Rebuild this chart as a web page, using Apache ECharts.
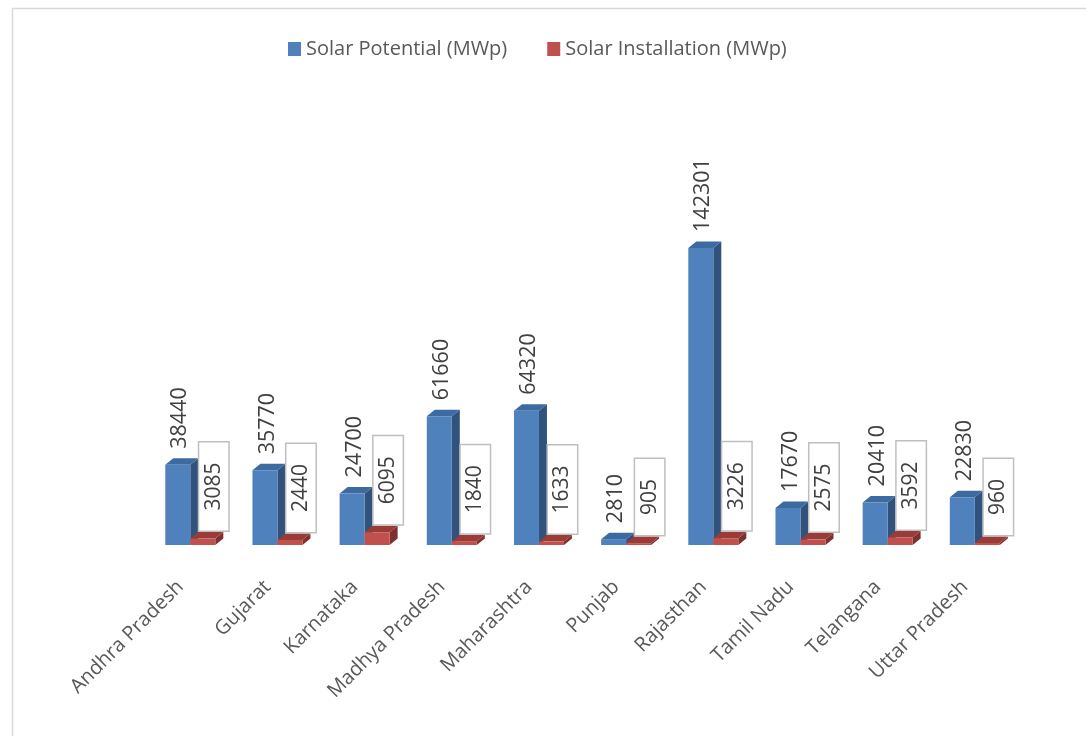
<!DOCTYPE html>
<html>
<head>
<meta charset="utf-8">
<script src="https://cdn.jsdelivr.net/npm/echarts@6/dist/echarts.min.js"></script>
<style>
html,body{margin:0;padding:0;background:#fff;}
#chart{width:1086px;height:736px;}
</style>
</head>
<body>
<div id="chart"></div>
<script>
const categories = ['Andhra Pradesh','Gujarat','Karnataka','Madhya Pradesh','Maharashtra','Punjab','Rajasthan','Tamil Nadu','Telangana','Uttar Pradesh'];
const potential = [38440, 35770, 24700, 61660, 64320, 2810, 142301, 17670, 20410, 22830];
const installation = [3085, 2440, 6095, 1840, 1633, 905, 3226, 2575, 3592, 960];
const seriesNames = ['Solar Potential (MWp)', 'Solar Installation (MWp)'];

const FONT = 'Open Sans';
const BAR_W = 25, DX = 8, DY = -6.5;

function makeRender(side, front, sideCol, topCol, boxed) {
  return function (params, api) {
    const idx = api.value(0), val = api.value(1);
    const base = api.coord([idx, 0]);
    const top = api.coord([idx, val]);
    const x0 = side < 0 ? base[0] - BAR_W : base[0];
    const x1 = x0 + BAR_W;
    const yb = base[1], yt = top[1];
    const children = [
      {type:'polygon', shape:{points:[[x1,yb],[x1+DX,yb+DY],[x1+DX,yt+DY],[x1,yt]]}, style:{fill:sideCol}},
      {type:'polygon', shape:{points:[[x0,yt],[x0+DX,yt+DY],[x1+DX,yt+DY],[x1,yt]]}, style:{fill:topCol}},
      {type:'rect', shape:{x:x0, y:yt, width:BAR_W, height:yb-yt}, style:{fill:front}}
    ];
    const cx = x0 + BAR_W / 2;
    if (boxed) {
      children.push({type:'text', x: cx + 11, y: yt - 8, rotation: Math.PI/2, z2: 10,
        style:{text:String(val), fill:'#404040', font:'21px "' + FONT + '"', align:'left', verticalAlign:'middle',
          backgroundColor:'#fff', borderColor:'#bfbfbf', borderWidth:1.5, padding:[4,20,4,20]}});
    } else {
      children.push({type:'text', x: cx + 2.5, y: yt - 16, rotation: Math.PI/2, z2: 10,
        style:{text:String(val), fill:'#404040', font:'21.5px "' + FONT + '"', align:'left', verticalAlign:'middle'}});
    }
    return {type:'group', children};
  };
}

const chart = echarts.init(document.getElementById('chart'));
chart.setOption({
  animation:false,
  backgroundColor:'#fff',
  graphic:[{type:'rect', shape:{x:12.5, y:8.5, width:1100, height:800}, style:{fill:'none', stroke:'#d9d9d9', lineWidth:1.5}, silent:true}],
  legend:{
    data:seriesNames, top:34, left:283, icon:'rect', itemWidth:13, itemHeight:14, itemGap:40,
    textStyle:{color:'#595959', fontSize:20, fontFamily:FONT, padding:[0,0,0,0]}
  },
  grid:{left:146.7, right:67.6, top:211, bottom:191},
  xAxis:{type:'category', data:categories, axisLine:{show:false}, axisTick:{show:false},
    axisLabel:{rotate:45, margin:29, padding:[0,14,0,0], color:'#595959', fontSize:20, fontFamily:FONT, interval:0}},
  yAxis:{type:'value', min:0, max:160000, show:false, splitLine:{show:false}},
  series:[
    {name:seriesNames[0], type:'custom', itemStyle:{color:'#4F81BD'}, z:2,
      renderItem:makeRender(-1,'#4F81BD','#30527c','#3d6aa1', false),
      encode:{x:0, y:1}, data:potential.map((v,i)=>[i,v])},
    {name:seriesNames[1], type:'custom', itemStyle:{color:'#C0504D'}, z:3,
      renderItem:makeRender(1,'#C0504D','#7e302e','#9a3b38', true),
      encode:{x:0, y:1}, data:installation.map((v,i)=>[i,v])}
  ]
});
</script>
</body>
</html>
